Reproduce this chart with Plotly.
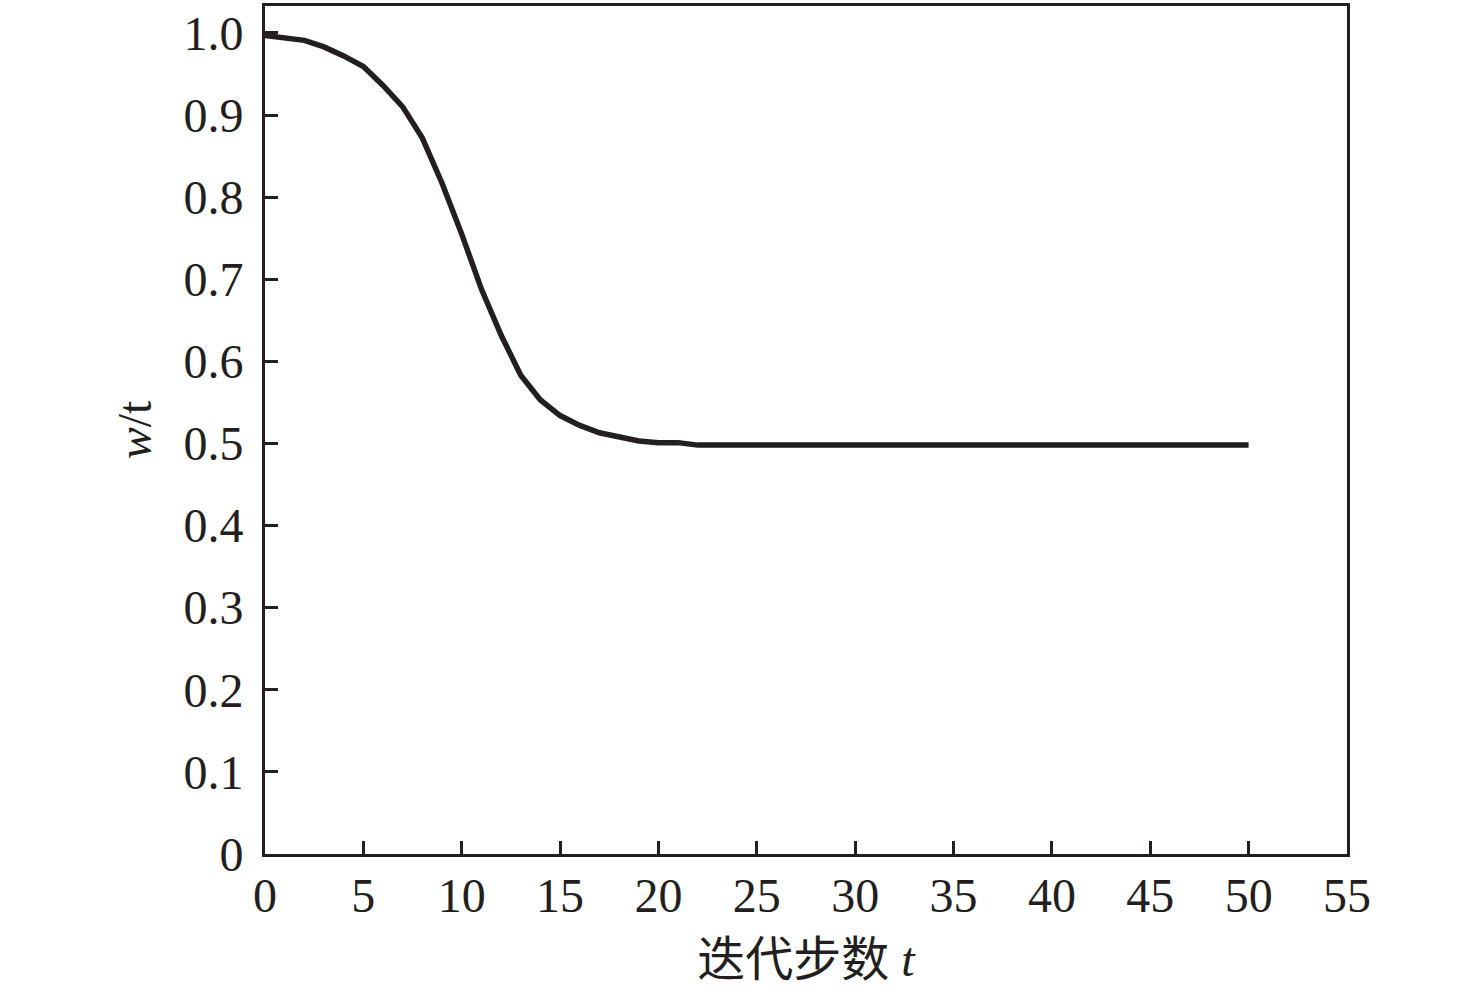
import plotly.graph_objects as go

# Data
t_steps = list(range(0, 51))
w_values = [0.997, 0.994, 0.991, 0.983, 0.972, 0.959, 0.936, 0.910, 0.872, 0.817,
            0.755, 0.688, 0.632, 0.583, 0.553, 0.534, 0.522, 0.513, 0.508, 0.503,
            0.501, 0.501, 0.498] + [0.498] * 28

y_tick_vals = [0, 0.1, 0.2, 0.3, 0.4, 0.5, 0.6, 0.7, 0.8, 0.9, 1.0]
y_tick_text = ["0", "0.1", "0.2", "0.3", "0.4", "0.5", "0.6", "0.7", "0.8", "0.9", "1.0"]
x_tick_vals = [0, 5, 10, 15, 20, 25, 30, 35, 40, 45, 50, 55]

ink = "#231f20"
font_family = "Liberation Serif, Times New Roman, Noto Sans CJK SC, serif"
fs = 48

fig = go.Figure()
fig.add_trace(go.Scatter(
    x=t_steps, y=w_values, mode="lines",
    line=dict(color=ink, width=5.5),
    showlegend=False,
))

fig.update_layout(
    width=1476, height=994,
    margin=dict(l=265, r=129, t=3, b=140),
    paper_bgcolor="white", plot_bgcolor="white",
    font=dict(family=font_family, size=fs, color=ink),
)

fig.update_xaxes(
    range=[0, 55], tickvals=x_tick_vals,
    showline=True, linewidth=3, linecolor=ink, mirror=True,
    ticks="inside", ticklen=13, tickwidth=3, tickcolor=ink,
    showgrid=False, zeroline=False, ticklabelstandoff=-3,
    tickfont=dict(size=fs, family=font_family, color=ink),
    title=dict(text="迭代步数 <i>t</i>", standoff=22,
               font=dict(size=fs, family=font_family, color=ink)),
)
fig.update_yaxes(
    range=[0, 1.0328], tickvals=y_tick_vals, ticktext=y_tick_text,
    showline=True, linewidth=3, linecolor=ink, mirror=True,
    ticks="inside", ticklen=13, tickwidth=3, tickcolor=ink,
    showgrid=False, zeroline=False, ticklabelstandoff=9,
    tickfont=dict(size=fs, family=font_family, color=ink),
    title=dict(text="<i>w</i>/t", standoff=17,
               font=dict(size=fs, family=font_family, color=ink)),
)

fig.write_html("out.html", config={"displayModeBar": False},
               post_script="document.body.style.margin='0';")
